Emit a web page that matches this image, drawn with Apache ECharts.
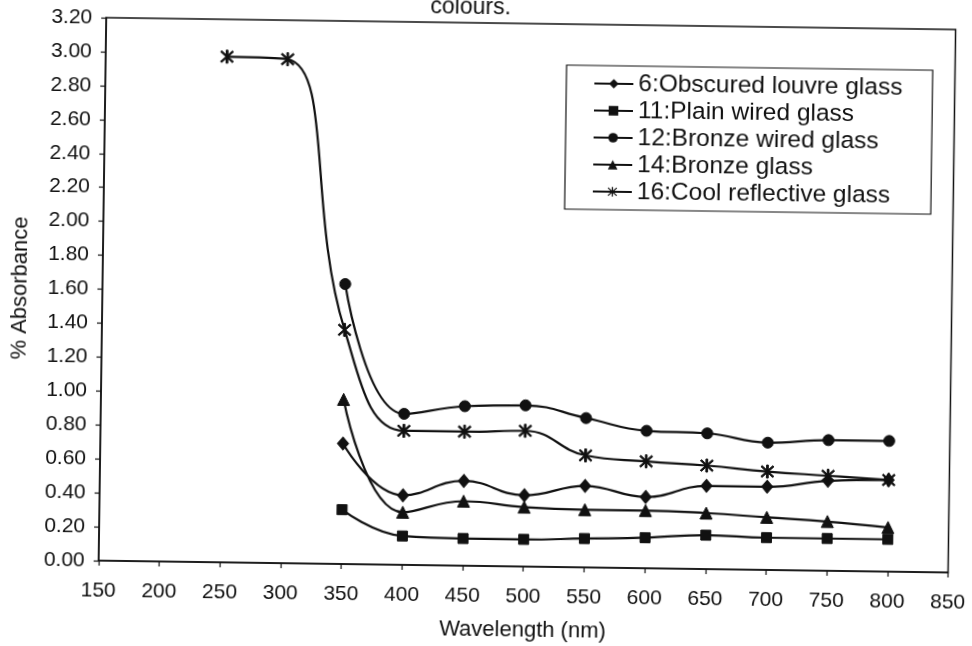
<!DOCTYPE html>
<html>
<head>
<meta charset="utf-8">
<script src="https://cdn.jsdelivr.net/npm/echarts@6/dist/echarts.min.js"></script>
<style>
  html, body { margin: 0; padding: 0; background: #ffffff; overflow: hidden; }
  /* the printed sheet sits slightly askew on the page */
  #chart { width: 972px; height: 646px; transform: rotate(0.8deg); transform-origin: 486px 323px; }
</style>
</head>
<body>
<div id="chart"></div>
<script>
// Wavelengths (nm) at which absorbance was measured
const wavelengthsCool = [250, 300, 350, 400, 450, 500, 550, 600, 650, 700, 750, 800];
const wavelengths = [350, 400, 450, 500, 550, 600, 650, 700, 750, 800];

// % Absorbance for each glass sample
const obscuredLouvre = [0.71, 0.41, 0.50, 0.42, 0.48, 0.42, 0.49, 0.49, 0.53, 0.54];
const plainWired     = [0.32, 0.17, 0.16, 0.16, 0.17, 0.18, 0.20, 0.19, 0.19, 0.19];
const bronzeWired    = [1.65, 0.89, 0.94, 0.95, 0.88, 0.81, 0.80, 0.75, 0.77, 0.77];
const bronze         = [0.97, 0.31, 0.38, 0.35, 0.34, 0.34, 0.33, 0.31, 0.29, 0.26];
const coolReflective = [2.98, 2.97, 1.38, 0.79, 0.79, 0.80, 0.66, 0.63, 0.61, 0.58, 0.56, 0.54];

const seriesNames = [
  '6:Obscured louvre glass',
  '11:Plain wired glass',
  '12:Bronze wired glass',
  '14:Bronze glass',
  '16:Cool reflective glass'
];

// Axis ranges and tick spacing
const xMin = 150, xMax = 850, xStep = 50;
const yMin = 0, yMax = 3.2, yStep = 0.2;

const FONT = 'Liberation Sans, Arial, sans-serif';
const INK = '#111111';

// Asterisk marker: vertical bar plus two diagonals
const asterisk = 'path://M4.4 0L5.6 0L5.6 10L4.4 10Z' +
  'M1.3 0.5L9.5 8.7L8.7 9.5L0.5 1.3Z' +
  'M8.7 0.5L9.5 1.3L1.3 9.5L0.5 8.7Z';

function pairs(xs, ys) {
  return xs.map((x, i) => [x, ys[i]]);
}

function lineSeries(name, xs, ys, symbol, size) {
  return {
    name: name,
    type: 'line',
    data: pairs(xs, ys),
    smooth: 0.45,
    symbol: symbol,
    symbolSize: size,
    showSymbol: true,
    lineStyle: { color: INK, width: 2.2 },
    itemStyle: { color: INK, borderColor: INK },
    emphasis: { disabled: true },
    z: 3
  };
}

const chart = echarts.init(document.getElementById('chart'), null, { renderer: 'canvas' });

chart.setOption({
  animation: false,
  backgroundColor: '#ffffff',
  graphic: [{
    type: 'text',
    left: 426,
    top: -4,
    style: {
      text: 'colours.',
      font: '23px ' + FONT,
      fill: INK
    }
  }],
  grid: {
    left: 102,
    right: 19,
    top: 23,
    bottom: 78,
    show: true,
    borderColor: INK,
    borderWidth: 1.5,
    backgroundColor: 'transparent'
  },
  legend: {
    orient: 'vertical',
    left: 563,
    top: 64,
    itemWidth: 39,
    itemHeight: 12,
    itemGap: 1,
    padding: [5, 30, 5, 27],
    borderColor: INK,
    borderWidth: 1.2,
    selectedMode: false,
    textStyle: { fontFamily: FONT, fontSize: 24.5, color: INK, lineHeight: 26 },
    data: seriesNames
  },
  xAxis: {
    type: 'value',
    min: xMin,
    max: xMax,
    interval: xStep,
    name: 'Wavelength (nm)',
    nameLocation: 'middle',
    nameGap: 53,
    nameTextStyle: { fontFamily: FONT, fontSize: 22, color: INK },
    axisLine: { show: true, onZero: false, lineStyle: { color: INK, width: 1.5 } },
    axisTick: { show: true, inside: false, length: 5, lineStyle: { color: INK, width: 1.2 } },
    axisLabel: { fontFamily: FONT, fontSize: 21, color: INK, margin: 20 },
    splitLine: { show: false }
  },
  yAxis: {
    type: 'value',
    min: yMin,
    max: yMax,
    interval: yStep,
    name: '% Absorbance',
    nameLocation: 'middle',
    nameRotate: 90,
    nameGap: 71,
    nameTextStyle: { fontFamily: FONT, fontSize: 22, color: INK },
    axisLine: { show: true, onZero: false, lineStyle: { color: INK, width: 1.5 } },
    axisTick: { show: true, inside: false, length: 5, lineStyle: { color: INK, width: 1.2 } },
    axisLabel: {
      fontFamily: FONT, fontSize: 21, color: INK, margin: 14,
      formatter: v => v.toFixed(2)
    },
    splitLine: { show: false }
  },
  series: [
    lineSeries(seriesNames[0], wavelengths, obscuredLouvre, 'diamond', [11, 13]),
    lineSeries(seriesNames[1], wavelengths, plainWired, 'rect', 10),
    lineSeries(seriesNames[2], wavelengths, bronzeWired, 'circle', 11),
    lineSeries(seriesNames[3], wavelengths, bronze, 'triangle', 12),
    lineSeries(seriesNames[4], wavelengthsCool, coolReflective, asterisk, 13)
  ]
});
</script>
</body>
</html>
